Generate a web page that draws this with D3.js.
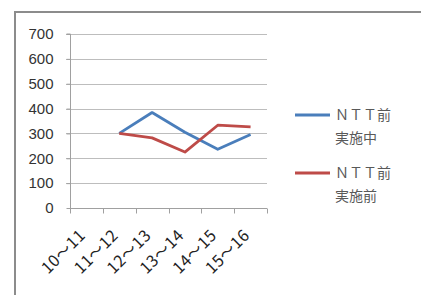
<!DOCTYPE html>
<html>
<head>
<meta charset="utf-8">
<script src="https://cdn.jsdelivr.net/npm/d3@7"></script>
<style>
  body { margin: 0; background: #fff; }
  svg { display: block; }
</style>
</head>
<body>
<svg id="chart" width="423" height="295"></svg>
<script>
// periods on the x axis
const categories = ["10～11", "11～12", "12～13", "13～14", "14～15", "15～16"];
// values (no value for the first period)
const duringValues = [null, 300, 384, 305, 236, 296];
const beforeValues = [null, 300, 282, 225, 333, 326];
const seriesNames = [["ＮＴＴ前", "実施中"], ["ＮＴＴ前", "実施前"]];
const seriesColors = ["#4a7ebb", "#be4b48"];
const yTicks = [0, 100, 200, 300, 400, 500, 600, 700];

function drawChart() {
  const svg = d3.select("svg#chart");

  // outer frame (only top and left edges are visible in the crop)
  svg.append("line").attr("x1", 15).attr("x2", 421).attr("y1", 12).attr("y2", 12)
    .attr("stroke", "#8c8c8c").attr("stroke-width", 2);
  svg.append("line").attr("x1", 15).attr("x2", 15).attr("y1", 11).attr("y2", 295)
    .attr("stroke", "#8c8c8c").attr("stroke-width", 2);

  const x = d3.scaleBand()
    .domain(categories)
    .range([70, 267]);

  const y = d3.scaleLinear()
    .domain([0, 700])
    .range([208, 34]);

  // gridlines
  svg.append("g")
    .selectAll("line")
    .data(yTicks.slice(1))
    .enter().append("line")
    .attr("x1", 66).attr("x2", 267)
    .attr("y1", d => Math.round(y(d)) + 0.5)
    .attr("y2", d => Math.round(y(d)) + 0.5)
    .attr("stroke", "#bdbdbd");

  // y axis
  const yAxis = svg.append("g")
    .attr("transform", "translate(70.5,0)")
    .call(d3.axisLeft(y).tickValues(yTicks).tickSize(4).tickPadding(13));
  yAxis.select(".domain").attr("stroke", "#a0a0a0").attr("d", "M-4," + y(700) + "H0V" + y(0));
  yAxis.selectAll(".tick line").attr("stroke", "#a0a0a0");
  yAxis.selectAll(".tick text")
    .attr("font-family", "Liberation Sans, Arial, sans-serif")
    .attr("font-size", 15)
    .attr("fill", "#333");

  // x axis with ticks between categories
  const xAxis = svg.append("g")
    .attr("transform", "translate(0," + (Math.round(y(0)) + 0.5) + ")");
  xAxis.append("line").attr("x1", 70).attr("x2", 267).attr("stroke", "#a0a0a0");
  xAxis.selectAll(".sep")
    .data(categories.concat(["end"]))
    .enter().append("line")
    .attr("class", "sep")
    .attr("x1", (d, i) => Math.round(i < categories.length ? x(d) : x.range()[1]) + 0.5)
    .attr("x2", (d, i) => Math.round(i < categories.length ? x(d) : x.range()[1]) + 0.5)
    .attr("y1", 0).attr("y2", 5)
    .attr("stroke", "#a0a0a0");
  xAxis.selectAll(".lbl")
    .data(categories)
    .enter().append("text")
    .attr("class", "lbl")
    .attr("transform", d => "translate(" + (x(d) + x.bandwidth() / 2 - 4) + ",24) rotate(-45)")
    .attr("text-anchor", "end")
    .attr("dy", "0.35em")
    .attr("font-family", "Noto Sans CJK JP, sans-serif")
    .attr("font-size", 16)
    .attr("letter-spacing", 0.5)
    .attr("fill", "#222")
    .text(d => d);

  // series lines
  const line = d3.line()
    .defined(d => d.v != null)
    .x(d => x(d.c) + x.bandwidth() / 2)
    .y(d => y(d.v));

  [duringValues, beforeValues].forEach((vals, k) => {
    const pts = categories.map((c, i) => ({ c: c, v: vals[i] }));
    svg.append("path")
      .datum(pts)
      .attr("d", line)
      .attr("fill", "none")
      .attr("stroke", seriesColors[k])
      .attr("stroke-width", 2.8)
      .attr("stroke-linejoin", "round");
  });

  // legend
  const legendY = [115, 173];
  seriesNames.forEach((name, k) => {
    const g = svg.append("g").attr("transform", "translate(295," + legendY[k] + ")");
    g.append("line").attr("x1", 0).attr("x2", 35)
      .attr("stroke", seriesColors[k]).attr("stroke-width", 2.8);
    name.forEach((t, j) => {
      g.append("text")
        .attr("x", 40).attr("y", j * 23)
        .attr("dy", "0.36em")
        .attr("font-family", "Noto Sans CJK JP, sans-serif")
        .attr("font-size", 14)
        .attr("fill", "#595959")
        .text(t);
    });
  });
}

drawChart();
</script>
</body>
</html>
